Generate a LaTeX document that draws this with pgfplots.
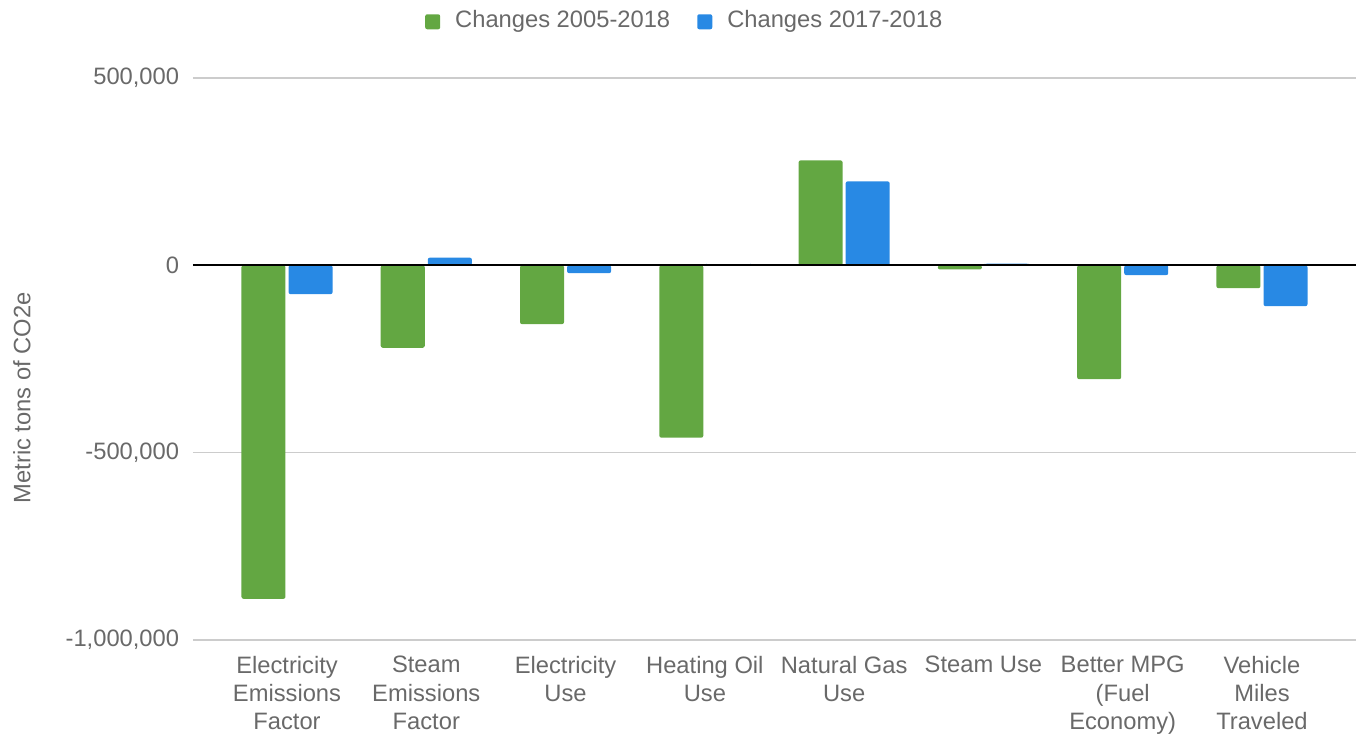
\documentclass[border=0pt]{standalone}
\usepackage{pgfplots}
\pgfplotsset{compat=1.18}
\usepackage{fontspec}
\setmainfont{Liberation Sans}
\definecolor{bargreen}{RGB}{99,167,66}
\definecolor{barblue}{RGB}{40,137,228}
\definecolor{txtgray}{RGB}{105,105,105}
\definecolor{gridgray}{RGB}{204,204,204}

\begin{document}
\begin{tikzpicture}
\begin{axis}[
  name=ax,
  scale only axis,
  width=116.3mm, height=56.2mm,
  xmin=-0.675, xmax=7.675,
  ymin=-1000000, ymax=500000,
  ytick={-1000000,-500000,0,500000},
  yticklabels={{-1,000,000},{-500,000},{0},{500,000}},
  scaled y ticks=false,
  xtick={0,...,7},
  xticklabels={Electricity\\Emissions\\Factor, Steam\\Emissions\\Factor,
    Electricity\\Use, Heating Oil\\Use, Natural Gas\\Use, Steam Use,
    Better MPG\\(Fuel\\Economy), Vehicle\\Miles\\Traveled},
  tick label style={font=\fontsize{6.75}{8}\selectfont, text=txtgray},
  xticklabel style={align=center, anchor=north, yshift=-0.4mm},
  yticklabel style={xshift=-0.15mm},
  axis line style={draw=none},
  tick style={draw=none},
  major tick length=0pt,
  ymajorgrids,
  grid style={gridgray, line width=0.4pt},
  legend columns=2,
  legend style={at={(0.425,1.1)}, anchor=center, draw=none, fill=none,
    inner sep=0pt,
    font=\fontsize{6.75}{8}\selectfont, text=txtgray,
    /tikz/every odd column/.append style={column sep=0.8mm},
    /tikz/every even column/.append style={column sep=2.0mm}},
  legend image code/.code={\fill[#1] (0mm,-0.75mm) rectangle (1.5mm,0.75mm);},
  clip=false,
]
\addplot[ybar, bar width=0.316, bar shift=-0.169, fill=bargreen, draw=none, rounded corners=0.2mm]
  coordinates {(0,-890000) (1,-220000) (2,-157000) (3,-460000)
               (4,280000) (5,-11000) (6,-304000) (7,-61000)};
\addlegendentry{Changes 2005-2018}
\addplot[ybar, bar width=0.316, bar shift=0.169, fill=barblue, draw=none, rounded corners=0.2mm]
  coordinates {(0,-77000) (1,20500) (2,-21000) (3,0)
               (4,224000) (5,4500) (6,-26000) (7,-109000)};
\addlegendentry{Changes 2017-2018}
\draw[black, line width=0.5pt] (axis cs:-0.675,0) -- (axis cs:7.675,0);
\node[rotate=90, text=txtgray, font=\fontsize{6.75}{8}\selectfont]
  at ([xshift=-17.1mm]rel axis cs:0,0.431) {Metric tons of CO2e};
\end{axis}
\path (ax.south west) ++(-19.3mm,-9.7mm) rectangle ++(135.7mm,73.7mm);
\end{tikzpicture}
\end{document}
